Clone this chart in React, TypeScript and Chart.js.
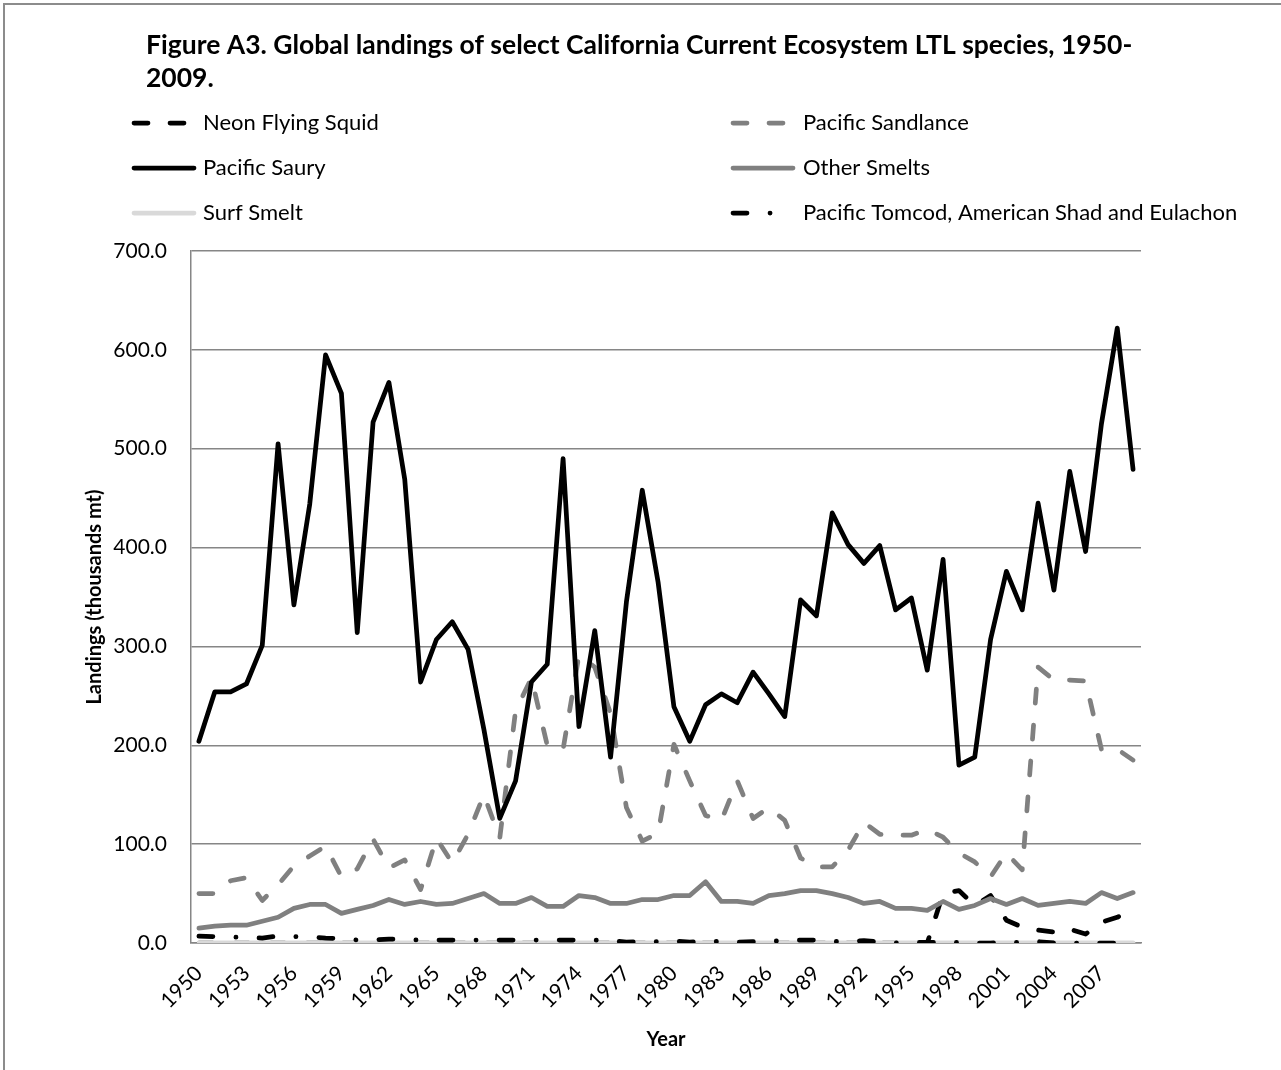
import React, { useEffect, useRef } from 'react';
import { Chart, registerables } from 'chart.js';

Chart.register(...registerables);

// ---------- data ----------
const years = [
  '1950', '1951', '1952', '1953', '1954', '1955', '1956', '1957', '1958', '1959',
  '1960', '1961', '1962', '1963', '1964', '1965', '1966', '1967', '1968', '1969',
  '1970', '1971', '1972', '1973', '1974', '1975', '1976', '1977', '1978', '1979',
  '1980', '1981', '1982', '1983', '1984', '1985', '1986', '1987', '1988', '1989',
  '1990', '1991', '1992', '1993', '1994', '1995', '1996', '1997', '1998', '1999',
  '2000', '2001', '2002', '2003', '2004', '2005', '2006', '2007', '2008', '2009',
];

const xTickLabels = [
  '1950', '1953', '1956', '1959', '1962', '1965', '1968', '1971', '1974', '1977',
  '1980', '1983', '1986', '1989', '1992', '1995', '1998', '2001', '2004', '2007',
];

const neonFlyingSquid = [
  0, 0, 0, 0, 0, 0, 0, 0, 0, 0,
  0, 0, 0, 0, 0, 0, 0, 0, 0, 0,
  0, 0, 0, 0, 0, 0, 0, 0, 0, 0,
  0, 0, 0, 0, 0, 0, 0, 0, 0, 0,
  0, 0, 0, 0, 0, 0, 0, 50, 53, 38,
  48, 23, 16, 13, 11, 14, 9, 21, 26, 34,
];

const pacificSandlance = [
  50, 50, 63, 66, 43, 59, 78, 88, 98, 67,
  75, 105, 76, 84, 54, 106, 81, 110, 150, 106,
  235, 268, 200, 196, 291, 279, 232, 137, 103, 111,
  201, 164, 129, 124, 164, 126, 137, 124, 86, 77,
  77, 94, 122, 110, 109, 109, 115, 107, 91, 82,
  67, 91, 74, 279, 266, 266, 265, 196, 196, 185,
];

const pacificSaury = [
  204, 254, 254, 262, 301, 505, 342, 444, 595, 556,
  314, 527, 567, 469, 264, 307, 325, 297, 216, 126,
  164, 264, 282, 490, 219, 316, 188, 345, 458, 365,
  239, 204, 241, 252, 243, 274, 252, 229, 347, 331,
  435, 403, 384, 402, 337, 349, 276, 388, 180, 188,
  307, 376, 337, 445, 357, 477, 396, 525, 622, 479,
];

const otherSmelts = [
  15, 17, 18, 18, 22, 26, 35, 39, 39, 30,
  34, 38, 44, 39, 42, 39, 40, 45, 50, 40,
  40, 46, 37, 37, 48, 46, 40, 40, 44, 44,
  48, 48, 62, 42, 42, 40, 48, 50, 53, 53,
  50, 46, 40, 42, 35, 35, 33, 42, 34, 38,
  45, 39, 45, 38, 40, 42, 40, 51, 45, 51,
];

const surfSmelt = [
  0.2, 0.2, 0.2, 0.2, 0.2, 0.2, 0.2, 0.2, 0.2, 0.2,
  0.2, 0.2, 0.2, 0.2, 0.2, 0.2, 0.2, 0.2, 0.2, 0.2,
  0.2, 0.2, 0.2, 0.2, 0.2, 0.2, 0.2, 0.2, 0.2, 0.2,
  0.2, 0.2, 0.2, 0.2, 0.2, 0.2, 0.2, 0.2, 0.2, 0.2,
  0.2, 0.2, 0.2, 0.2, 0.2, 0.2, 0.2, 0.2, 0.2, 0.2,
  0.2, 0.2, 0.2, 0.2, 0.2, 0.2, 0.2, 0.2, 0.2, 0.2,
];

const tomcodShadEulachon = [
  7, 6.5, 6, 5.5, 5, 7, 6.5, 6, 5, 4.5,
  3, 3, 4, 3.5, 3, 3, 3, 3, 3, 3,
  3, 3, 3, 3, 3, 3, 2.4, 1, 1.5, 1.5,
  2, 1, 1.4, 1.7, 0.7, 1.4, 1.7, 2.4, 3, 3,
  1.7, 1.4, 2.4, 1, 0, 0.4, 0.7, 0.7, 0.5, 0,
  0, 0.5, 0.7, 1.4, 0, 0, 0, 0, 0, 0,
];

const seriesNames = [
  'Neon Flying Squid',
  'Pacific Sandlance',
  'Pacific Saury',
  'Other Smelts',
  'Surf Smelt',
  'Pacific Tomcod, American Shad and Eulachon',
];

const titleLines = [
  'Figure A3. Global landings of select California Current Ecosystem LTL species, 1950-',
  '2009.',
];

const yAxisTitle = 'Landings (thousands mt)';
const xAxisTitle = 'Year';

// ---------- styles ----------
const FONT = 'Lato, "Open Sans", sans-serif';
const GRID = '#868686';
const DASH = [14, 22];
const DASH_DOT = [14, 23, 0.1, 23];

const titleLegendPlugin = {
  id: 'titleLegend',
  afterDraw(chart: any) {
    const ctx: CanvasRenderingContext2D = chart.ctx;
    ctx.save();
    ctx.fillStyle = '#000';
    ctx.textAlign = 'left';
    ctx.textBaseline = 'alphabetic';
    ctx.font = `bold 26.5px ${FONT}`;
    titleLines.forEach((t, i) => ctx.fillText(t, 146, 54 + i * 33));

    const colSample = [134, 733];
    const colText = [203, 803];
    const rows = [123, 168, 213];
    chart.data.datasets.forEach((ds: any, i: number) => {
      const col = i % 2;
      const row = Math.floor(i / 2);
      const y = rows[row];
      ctx.save();
      ctx.strokeStyle = ds.borderColor;
      ctx.lineWidth = ds.borderWidth;
      ctx.lineCap = 'round';
      ctx.lineJoin = 'round';
      ctx.setLineDash(ds.borderDash || []);
      ctx.beginPath();
      ctx.moveTo(colSample[col], y);
      ctx.lineTo(colSample[col] + 60, y);
      ctx.stroke();
      ctx.restore();
      ctx.font = `22px ${FONT}`;
      ctx.textBaseline = 'middle';
      ctx.fillStyle = '#000';
      ctx.fillText(ds.label, colText[col], y);
    });
    ctx.restore();
  },
};

export default function App() {
  const canvasRef = useRef<HTMLCanvasElement | null>(null);

  useEffect(() => {
    const canvas = canvasRef.current;
    if (!canvas) return;
    const lineBase = {
      pointRadius: 0,
      pointHoverRadius: 0,
      borderWidth: 4.75,
      borderCapStyle: 'round',
      borderJoinStyle: 'round',
      tension: 0,
      fill: false,
    };
    const chart = new Chart(canvas, {
      type: 'line',
      data: {
        labels: years,
        datasets: [
          { ...lineBase, label: seriesNames[0], data: neonFlyingSquid, borderColor: '#000000', borderDash: DASH, order: 6 },
          { ...lineBase, label: seriesNames[1], data: pacificSandlance, borderColor: '#808080', borderDash: DASH, order: 5 },
          { ...lineBase, label: seriesNames[2], data: pacificSaury, borderColor: '#000000', order: 4 },
          { ...lineBase, label: seriesNames[3], data: otherSmelts, borderColor: '#808080', order: 3 },
          { ...lineBase, label: seriesNames[4], data: surfSmelt, borderColor: '#d9d9d9', order: 2 },
          { ...lineBase, label: seriesNames[5], data: tomcodShadEulachon, borderColor: '#000000', borderDash: DASH_DOT, order: 1 },
        ] as any,
      },
      options: {
        responsive: false,
        animation: false,
        devicePixelRatio: 1,
        layout: { padding: { left: 0, right: 140, top: 251, bottom: 0 } },
        plugins: {
          legend: { display: false },
          title: { display: false },
          tooltip: { enabled: false },
        },
        scales: {
          x: {
            type: 'category',
            offset: true,
            grid: { display: false, drawTicks: false },
            border: { display: true, color: GRID, width: 1.5 },
            ticks: {
              autoSkip: false,
              maxRotation: 45,
              minRotation: 45,
              padding: 18,
              color: '#000',
              font: { family: FONT, size: 21 },
              callback: function (this: any, value: any) {
                const lab = this.getLabelForValue(value);
                return xTickLabels.includes(lab) ? lab : '';
              },
            },
            title: {
              display: true,
              text: xAxisTitle,
              color: '#000',
              font: { family: FONT, size: 20, weight: 'bold' },
              padding: { top: 0, bottom: 18 },
            },
            afterFit: (scale: any) => {
              scale.height = 127;
            },
          },
          y: {
            min: 0,
            max: 700,
            grid: { color: GRID, lineWidth: 1.5, drawTicks: false },
            border: { display: true, color: GRID, width: 1.5 },
            ticks: {
              stepSize: 100,
              padding: 24,
              color: '#000',
              font: { family: FONT, size: 21 },
              callback: (v: any) => Number(v).toFixed(1),
            },
            title: {
              display: true,
              text: yAxisTitle,
              color: '#000',
              font: { family: FONT, size: 20, weight: 'bold' },
              padding: { top: 83, bottom: 0 },
            },
            afterFit: (scale: any) => {
              scale.width = 191;
            },
          },
        },
      } as any,
      plugins: [titleLegendPlugin],
    });
    return () => chart.destroy();
  }, []);

  return (
    <div style={{ position: 'fixed', left: 0, top: 0, width: 1281, height: 1070, overflow: 'hidden', background: '#fff' }}>
      <div
        style={{
          position: 'absolute',
          left: 3,
          top: 3,
          width: 1320,
          height: 1120,
          border: '2px solid #8c8c8c',
          boxSizing: 'border-box',
        }}
      />
      <canvas
        ref={canvasRef}
        width={1281}
        height={1070}
        style={{ position: 'absolute', left: 0, top: 0, width: 1281, height: 1070 }}
      />
    </div>
  );
}
